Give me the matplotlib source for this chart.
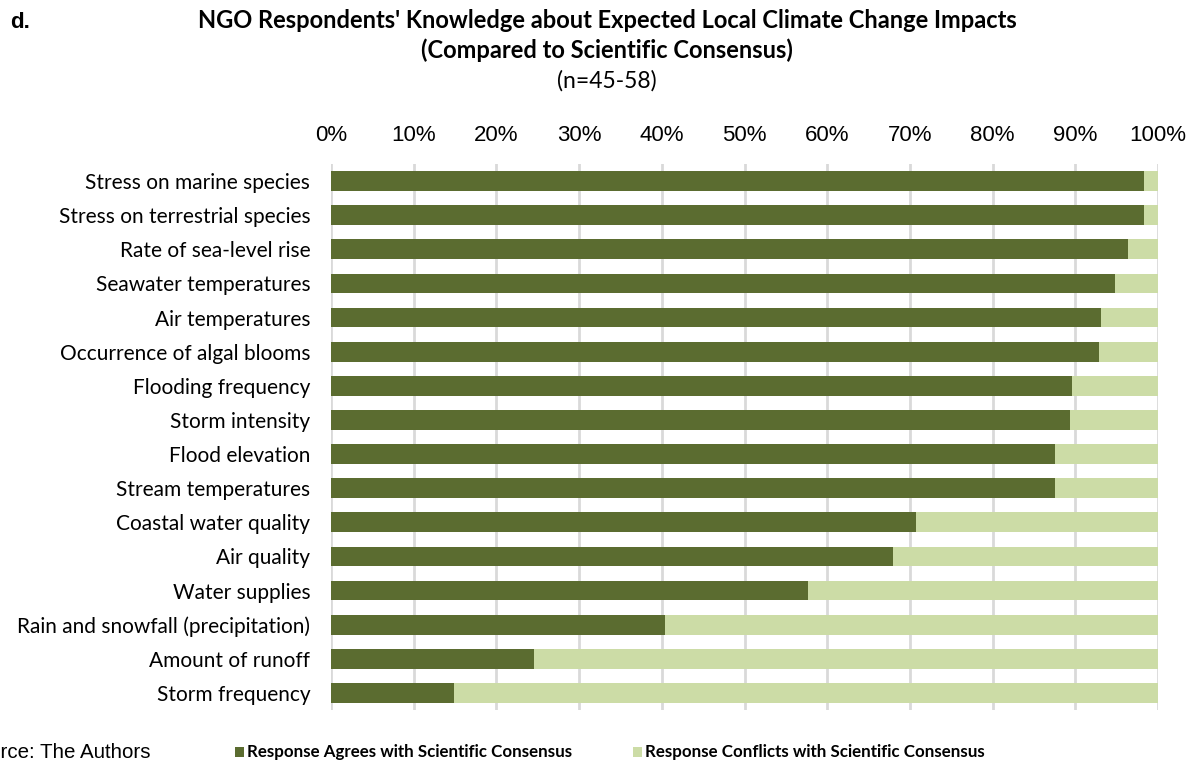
import matplotlib
matplotlib.use("Agg")
import matplotlib.pyplot as plt
from matplotlib.patches import Rectangle

categories = [
    "Stress on marine species",
    "Stress on terrestrial species",
    "Rate of sea-level rise",
    "Seawater temperatures",
    "Air temperatures",
    "Occurrence of algal blooms",
    "Flooding frequency",
    "Storm intensity",
    "Flood elevation",
    "Stream temperatures",
    "Coastal water quality",
    "Air quality",
    "Water supplies",
    "Rain and snowfall (precipitation)",
    "Amount of runoff",
    "Storm frequency",
]
agrees = [98.3, 98.3, 96.4, 94.8, 93.1, 92.9, 89.6, 89.3, 87.5, 87.5,
          70.7, 67.9, 57.7, 40.4, 24.5, 14.9]
conflicts = [100 - a for a in agrees]
xticks = [0, 10, 20, 30, 40, 50, 60, 70, 80, 90, 100]
xticklabels = [f"{t}%" for t in xticks]

dark = "#5B6C30"
light = "#CCDCA6"
W, H = 1191, 763

fig = plt.figure(figsize=(W / 100, H / 100), dpi=100)
ax = fig.add_axes([331 / W, 1 - 710 / H, (1158 - 331) / W, (710 - 164) / H])

ypos = list(range(len(categories)))
ax.barh(ypos, agrees, height=0.58, color=dark, zorder=3)
ax.barh(ypos, conflicts, left=agrees, height=0.58, color=light, zorder=3)

ax.set_xlim(0, 100)
ax.set_ylim(len(categories) - 0.5, -0.5)
ax.set_yticks(ypos)
ax.set_yticklabels(categories, fontfamily="Lato", fontsize=15)
ax.set_xticks(xticks)
ax.set_xticklabels(xticklabels, fontfamily="Liberation Sans", fontsize=16)
ax.xaxis.tick_top()
ax.tick_params(axis="x", length=0, pad=13)
ax.tick_params(axis="y", length=0, pad=15)
ax.grid(axis="x", color="#D9D9D9", linewidth=2, zorder=0)
for s in ax.spines.values():
    s.set_visible(False)

fig.text(10 / W, 1 - 22 / H, "d.", fontfamily="Liberation Sans", fontweight="bold",
         fontsize=16, va="center", ha="left")
fig.text(607 / W, 1 - 20 / H,
         "NGO Respondents' Knowledge about Expected Local Climate Change Impacts",
         fontfamily="Lato", fontweight="bold", fontsize=17, ha="center", va="center")
fig.text(607 / W, 1 - 50 / H, "(Compared to Scientific Consensus)",
         fontfamily="Lato", fontweight="bold", fontsize=17, ha="center", va="center")
fig.text(607 / W, 1 - 81 / H, "(n=45-58)",
         fontfamily="Lato", fontsize=16.5, ha="center", va="center")

fig.text(150 / W, 1 - 752 / H, "Source: The Authors", fontfamily="Liberation Sans",
         fontsize=14.8, ha="right", va="center")

# legend
for x0, col, lab in [(235, dark, "Response Agrees with Scientific Consensus"),
                     (633, light, "Response Conflicts with Scientific Consensus")]:
    fig.patches.append(Rectangle((x0 / W, 1 - 757 / H), 9 / W, 10 / H,
                                 transform=fig.transFigure, facecolor=col,
                                 edgecolor="none"))
    fig.text((x0 + 12) / W, 1 - 752 / H, lab, fontfamily="Lato", fontweight="bold",
             fontsize=12.2, ha="left", va="center")

fig.savefig("out.png", dpi=100)
